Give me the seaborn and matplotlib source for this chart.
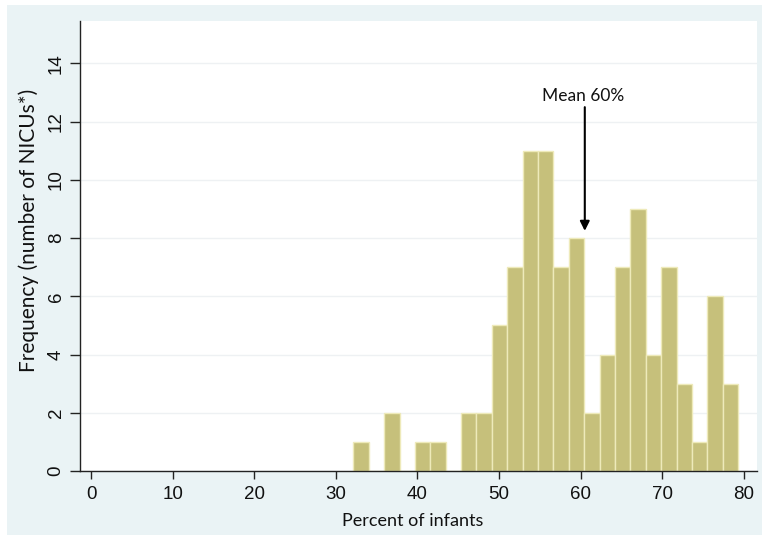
import numpy as np
import pandas as pd
import matplotlib
matplotlib.use("Agg")
import matplotlib.pyplot as plt
from matplotlib.patches import Rectangle
import seaborn as sns

# ---- data ----
bin_start = 32.14
bin_width = 1.886
counts = [1, 0, 2, 0, 1, 1, 0, 2, 2, 5, 7, 11, 11, 7, 8, 2, 4, 7, 9, 4, 7, 3, 1, 6, 3]
x_ticks = [0, 10, 20, 30, 40, 50, 60, 70, 80]
y_ticks = [0, 2, 4, 6, 8, 10, 12, 14]
mean_value = 60.5
mean_label = "Mean 60%"
x_label = "Percent of infants"
y_label = "Frequency (number of NICUs*)"

n_bins = len(counts)
edges = bin_start + bin_width * np.arange(n_bins + 1)
centers = (edges[:-1] + edges[1:]) / 2
df = pd.DataFrame({"pct": centers, "n": counts})

sns.set_theme(style="white")
plt.rcParams["font.family"] = ["Liberation Sans", "DejaVu Sans"]

W, H = 762, 535
fig = plt.figure(figsize=(W / 100, H / 100), dpi=100)
fig.patch.set_facecolor("#EAF3F5")
# white border strips (top and left) like the reference
fig.add_artist(Rectangle((0, 1 - 5 / H), 1, 5 / H, transform=fig.transFigure,
                         facecolor="white", edgecolor="none", zorder=-1))
fig.add_artist(Rectangle((0, 0), 7 / W, 1, transform=fig.transFigure,
                         facecolor="white", edgecolor="none", zorder=-1))

ax = fig.add_axes([80 / W, 1 - 471 / H, (757 - 80) / W, (471 - 21) / H])
ax.set_facecolor("white")

sns.histplot(data=df, x="pct", weights="n", binwidth=bin_width,
             binrange=(float(edges[0]), float(edges[-1])), ax=ax,
             color="#C6C07B", edgecolor="#EEEABA", linewidth=1.0, alpha=1.0,
             zorder=2)

ax.set_xlim(-1.35, 81.6)
ax.set_ylim(0, 15.46)
ax.set_xticks(x_ticks)
ax.set_yticks(y_ticks)
ax.yaxis.grid(True, color="#EEF1F3", linewidth=1.0, zorder=0)
ax.set_axisbelow(True)

for s in ["top", "right"]:
    ax.spines[s].set_visible(False)
for s in ["left", "bottom"]:
    ax.spines[s].set_color("#222222")
    ax.spines[s].set_linewidth(1.0)

ax.tick_params(axis="x", which="both", direction="out", length=6, width=1,
               color="#222222", labelsize=13.5, pad=5, bottom=True,
               labelcolor="#111111")
ax.tick_params(axis="y", which="both", direction="out", length=7, width=1,
               color="#222222", labelsize=13.5, pad=4, left=True,
               labelcolor="#111111")
for lab in ax.get_yticklabels() + ax.get_xticklabels():
    lab.set_family(["Liberation Sans", "DejaVu Sans"])
for lab in ax.get_yticklabels():
    lab.set_rotation(90)
    lab.set_va("center")

ax.set_xlabel(x_label, fontsize=13, family=["Lato", "DejaVu Sans"], labelpad=7,
              color="#111111")
ax.set_ylabel(y_label, fontsize=15, family=["Lato", "DejaVu Sans"], labelpad=6,
              color="#111111")
ax.xaxis.label.set_x(0.492)
ax.yaxis.label.set_y(0.535)

ax.annotate("", xy=(mean_value, 8.25), xytext=(mean_value, 12.5),
            arrowprops=dict(arrowstyle="-|>", color="black", lw=1.5,
                            mutation_scale=14, shrinkA=0, shrinkB=0),
            zorder=5)
ax.text(mean_value - 0.2, 12.9, mean_label, ha="center", va="center",
        fontsize=12.5, family=["Lato", "DejaVu Sans"], color="#111111")

fig.savefig("out.png", dpi=100, facecolor=fig.get_facecolor())
